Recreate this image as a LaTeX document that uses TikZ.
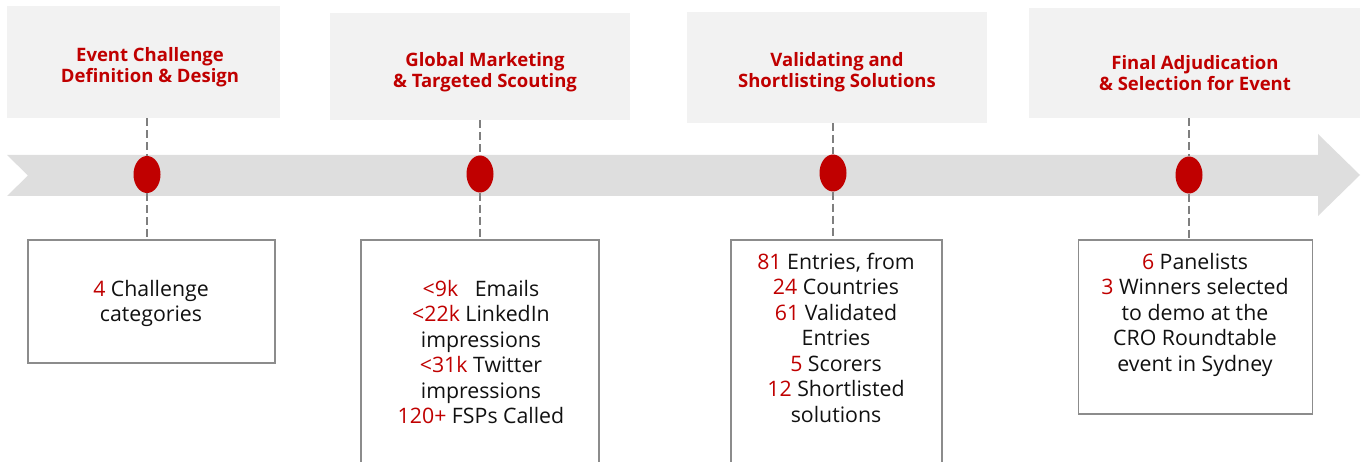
\documentclass[tikz,border=0pt]{standalone}
\usepackage{fontspec}
\setmainfont{Open Sans}
\usetikzlibrary{shapes.geometric}
\definecolor{cred}{HTML}{C00000}
\definecolor{tbox}{HTML}{F2F2F2}
\definecolor{band}{HTML}{DEDEDE}
\definecolor{lgray}{HTML}{7F7F7F}
\definecolor{bgray}{HTML}{8C8C8C}
\definecolor{txt}{HTML}{111111}
\newcommand{\rn}[1]{\textcolor{cred}{#1}}
\begin{document}
\begin{tikzpicture}[x=1pt,y=-1pt,
  titletext/.style={text=cred,font=\fontsize{18.5}{21}\selectfont\bfseries,align=center,inner sep=0pt},
  dot/.style={ellipse,fill=cred,draw=none,minimum width=27pt,minimum height=37pt,inner sep=0pt},
  infobox/.style={draw=bgray,line width=1.5pt,fill=white,inner sep=0pt},
  infotext/.style={text=txt,font=\fontsize{21.3}{25.5}\selectfont,align=center,inner sep=0pt,anchor=north},
  link/.style={draw=lgray,line width=2.5pt,dash pattern=on 8pt off 4pt}]
\useasboundingbox (0,0) rectangle (1366,462);
\clip (0,0) rectangle (1366,462);
% band arrow
\fill[band] (7,155) -- (1318,155) -- (1318,134) -- (1360,175) -- (1318,216) -- (1318,196) -- (7,196) -- (28,175.5) -- cycle;
% title boxes
\node[fill=tbox,inner sep=0pt,minimum width=273pt,minimum height=112pt] (t1) at (143.5,62) {};
\node[fill=tbox,inner sep=0pt,minimum width=300pt,minimum height=107pt] (t2) at (480,66.5) {};
\node[fill=tbox,inner sep=0pt,minimum width=300pt,minimum height=111pt] (t3) at (837,67.5) {};
\node[fill=tbox,inner sep=0pt,minimum width=331pt,minimum height=110pt] (t4) at (1194.5,63) {};
\node[titletext] (tt1) at (150,67) {Event Challenge\\Definition \& Design};
\node[titletext] (tt2) at (485,72) {Global Marketing\\\& Targeted Scouting};
\node[titletext] (tt3) at (837,72) {Validating and\\Shortlisting Solutions};
\node[titletext] (tt4) at (1195,73) {Final Adjudication\\\& Selection for Event};
% dots
\node[dot] (d1) at (147,174.5) {};
\node[dot] (d2) at (480,174) {};
\node[dot] (d3) at (833,173) {};
\node[dot] (d4) at (1189,175) {};
% info boxes
\node[infobox,minimum width=247pt,minimum height=123pt] (b1) at (151.5,301.5) {};
\node[infobox,minimum width=238pt,minimum height=240pt] (b2) at (480,360) {};
\node[infobox,minimum width=211pt,minimum height=240pt] (b3) at (836.5,360) {};
\node[infobox,minimum width=234pt,minimum height=174pt] (b4) at (1195.5,327) {};
% connectors
\path[link] (t1.south -| d1) -- (d1.north);
\path[link] (d1.south) -- (d1 |- b1.north);
\path[link] (t2.south -| d2) -- (d2.north);
\path[link] (d2.south) -- (d2 |- b2.north);
\path[link] (t3.south -| d3) -- (d3.north);
\path[link] (d3.south) -- (d3 |- b3.north);
\path[link] (t4.south -| d4) -- (d4.north);
\path[link] (d4.south) -- (d4 |- b4.north);
% texts
\node[infotext] (x1) at (151,280) {\rn{4} Challenge\\categories};
\node[infotext] (x2) at (481,280) {\rn{<9k}\ \ \ Emails\\\rn{<22k} LinkedIn\\impressions\\\rn{<31k} Twitter\\impressions\\\rn{120+} FSPs Called};
\node[infotext] (x3) at (836,253) {\rn{81} Entries, from\\\rn{24} Countries\\\rn{61} Validated\\Entries\\\rn{5} Scorers\\\rn{12} Shortlisted\\solutions};
\node[infotext] (x4) at (1195,253) {\rn{6} Panelists\\\rn{3} Winners selected\\to demo at the\\CRO Roundtable\\event in Sydney};
\end{tikzpicture}
\end{document}
